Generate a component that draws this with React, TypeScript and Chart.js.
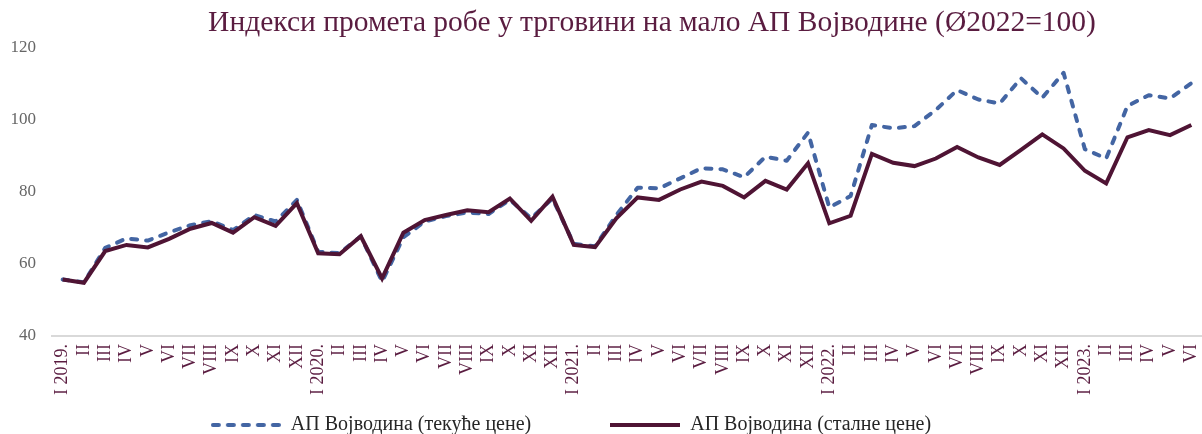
import React, { useEffect, useRef } from "react";
import { Chart, registerables } from "chart.js";

Chart.register(...registerables);

// ---- data ----
const labels = [
  "I 2019.", "II", "III", "IV", "V", "VI", "VII", "VIII", "IX", "X", "XI", "XII",
  "I 2020.", "II", "III", "IV", "V", "VI", "VII", "VIII", "IX", "X", "XI", "XII",
  "I 2021.", "II", "III", "IV", "V", "VI", "VII", "VIII", "IX", "X", "XI", "XII",
  "I 2022.", "II", "III", "IV", "V", "VI", "VII", "VIII", "IX", "X", "XI", "XII",
  "I 2023.", "II", "III", "IV", "V", "VI",
];

// АП Војводина (текуће цене)
const currentPrices = [
  55.7, 54.9, 64.5, 67.1, 66.5, 68.8, 70.8, 71.9, 69.4, 73.6, 71.8, 77.8,
  63.4, 63.0, 67.7, 55.1, 67.4, 71.8, 73.3, 74.3, 73.9, 77.8, 72.7, 78.2,
  65.6, 64.9, 73.6, 81.2, 81.0, 83.8, 86.6, 86.3, 84.1, 89.8, 88.7, 96.5,
  75.7, 78.9, 98.6, 97.7, 98.3, 102.8, 108.3, 105.7, 104.6, 111.6, 106.2, 113.1,
  91.9, 89.3, 103.9, 106.9, 106.0, 110.2,
];

// АП Војводина (сталне цене)
const constantPrices = [
  55.7, 54.8, 63.6, 65.3, 64.6, 67.0, 69.8, 71.4, 68.7, 73.0, 70.6, 76.9,
  63.0, 62.7, 67.7, 56.0, 68.7, 72.2, 73.6, 74.9, 74.4, 78.2, 72.0, 78.7,
  65.3, 64.7, 72.7, 78.5, 77.8, 80.7, 82.9, 81.7, 78.5, 83.1, 80.7, 88.0,
  71.3, 73.4, 90.6, 88.1, 87.2, 89.3, 92.5, 89.6, 87.5, 91.7, 96.0, 92.1,
  85.9, 82.4, 95.2, 97.2, 95.8, 98.6,
];

const seriesNames = ["АП Војводина (текуће цене)", "АП Војводина (сталне цене)"];
const titleText = "Индекси промета робе у трговини на мало АП Војводине (Ø2022=100)";
const yMin = 40;
const yMax = 120;
const yStep = 20;

// ---- styles ----
const W = 1202;
const H = 434;
const FONT = '"Liberation Serif", "DejaVu Serif", serif';
const BLUE = "#4365a3";
const MAROON_LINE = "#4f1434";
const MAROON_TEXT = "#5a1c40";
const TITLE_SIZE = 29.5;
const TITLE_X = 652;
const TITLE_Y = 23;
const LEGEND_FONT = 20;
const LEGEND_PAD = 79;
const LEGEND_SYMBOL_W = 70;
const LINE_W = 4;
const DASH = [6, 9];

function legendSymbol(color: string, dash: number[]) {
  const c = document.createElement("canvas");
  c.width = LEGEND_SYMBOL_W;
  c.height = 8;
  const ctx = c.getContext("2d")!;
  ctx.strokeStyle = color;
  ctx.lineWidth = LINE_W;
  ctx.lineCap = dash.length ? "round" : "butt";
  ctx.setLineDash(dash);
  ctx.beginPath();
  ctx.moveTo(dash.length ? 2 : 0, 4);
  ctx.lineTo(LEGEND_SYMBOL_W, 4);
  ctx.stroke();
  return c;
}

export default function App() {
  const ref = useRef<HTMLCanvasElement>(null);

  useEffect(() => {
    const canvas = ref.current;
    if (!canvas) return;

    const titlePlugin = {
      id: "customTitle",
      beforeDraw(chart: any) {
        // let rotated x labels extend below the (zero-height) axis box
        if (chart.scales.x) chart.scales.x._computeLabelArea = () => undefined;
      },
      afterDraw(chart: any) {
        const ctx = chart.ctx;
        ctx.save();
        ctx.font = `${TITLE_SIZE}px ${FONT}`;
        ctx.fillStyle = MAROON_TEXT;
        ctx.textAlign = "center";
        ctx.textBaseline = "middle";
        ctx.fillText(titleText, TITLE_X, TITLE_Y);
        ctx.restore();
      },
    };

    const chart = new Chart(canvas, {
      type: "line",
      data: {
        labels,
        datasets: [
          {
            label: seriesNames[0],
            data: currentPrices,
            borderColor: BLUE,
            backgroundColor: BLUE,
            borderWidth: LINE_W,
            borderDash: DASH,
            borderCapStyle: "round",
            borderJoinStyle: "round",
            pointRadius: 0,
            pointStyle: legendSymbol(BLUE, DASH),
            tension: 0,
            fill: false,
            order: 1,
          },
          {
            label: seriesNames[1],
            data: constantPrices,
            borderColor: MAROON_LINE,
            backgroundColor: MAROON_LINE,
            borderWidth: LINE_W,
            borderCapStyle: "butt",
            borderJoinStyle: "miter",
            pointRadius: 0,
            pointStyle: legendSymbol(MAROON_LINE, []),
            tension: 0,
            fill: false,
            order: 0,
          },
        ],
      },
      options: {
        responsive: false,
        animation: false,
        devicePixelRatio: 1,
        layout: {
          autoPadding: false,
          padding: { top: 48, left: -62, right: -2, bottom: -11 },
        },
        plugins: {
          title: { display: false },
          tooltip: { enabled: false },
          legend: {
            display: true,
            position: "bottom",
            labels: {
              usePointStyle: true,
              pointStyleWidth: LEGEND_SYMBOL_W,
              padding: LEGEND_PAD,
              color: "#262626",
              font: { family: FONT, size: LEGEND_FONT },
              sort: (a: any, b: any) => a.datasetIndex - b.datasetIndex,
            },
          },
        },
        scales: {
          x: {
            type: "category",
            offset: true,
            grid: { display: false, drawTicks: false },
            border: { display: true, color: "#d9d9d9", width: 2 },
            ticks: {
              autoSkip: false,
              minRotation: 90,
              maxRotation: 90,
              padding: 8,
              color: MAROON_TEXT,
              font: { family: FONT, size: 18 },
            },
            afterFit: (s: any) => {
              s.height = 0;
              s.paddingLeft = 0;
              s.paddingRight = 0;
            },
          },
          y: {
            min: yMin,
            max: yMax,
            grid: { display: false, drawTicks: false },
            border: { display: false },
            ticks: {
              stepSize: yStep,
              padding: 16,
              color: "#666666",
              font: { family: FONT, size: 17 },
            },
            afterFit: (s: any) => {
              s.width = 114;
            },
          },
        },
      },
      plugins: [titlePlugin],
    } as any);

    return () => chart.destroy();
  }, []);

  return (
    <div style={{ position: "absolute", left: 0, top: 0, width: W, height: H }}>
      <canvas ref={ref} width={W} height={H} style={{ display: "block" }} />
    </div>
  );
}
